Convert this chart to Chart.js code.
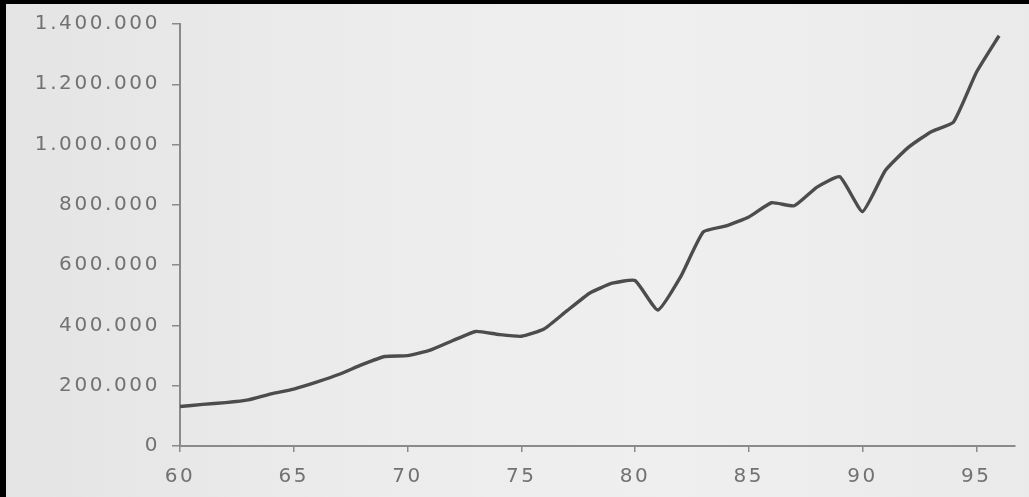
<!DOCTYPE html>
<html>
<head>
<meta charset="utf-8">
<title>Grafico</title>
<script src="https://cdn.jsdelivr.net/npm/chart.js@4.4.1/dist/chart.umd.min.js"></script>
<style>
  html, body { margin: 0; padding: 0; }
  body {
    width: 1029px; height: 497px; overflow: hidden; position: relative;
    background: linear-gradient(90deg, #e4e4e4 0%, #ececec 35%, #efefef 65%, #eaeaea 100%);
  }
  #wrap { position: absolute; left: 0; top: 0; width: 1029px; height: 497px; }
  #grafico { filter: blur(0.6px); }
  .borda { position: absolute; background: #000; }
</style>
</head>
<body>
<div id="wrap"><canvas id="grafico" width="1029" height="497"></canvas></div>
<div class="borda" style="left:0;top:0;width:6px;height:497px"></div>
<div class="borda" style="left:0;top:0;width:1029px;height:4px"></div>
<script>
// anos (60 = 1960) e valores
const anos = [60, 61, 62, 63, 64, 65, 66, 67, 68, 69,
              70, 71, 72, 73, 74, 75, 76, 77, 78, 79,
              80, 81, 82, 83, 84, 85, 86, 87, 88, 89,
              90, 91, 92, 93, 94, 95, 96];
const valores = [131000, 138000, 144000, 153000, 173000, 189000, 212000, 238000, 270000, 297000,
                 300000, 318000, 350000, 380000, 370000, 364000, 388000, 448000, 507000, 540000,
                 549000, 451000, 561000, 710000, 730000, 760000, 807000, 797000, 859000, 893000,
                 778000, 914000, 990000, 1042000, 1075000, 1239000, 1361000];
// ticks dos eixos
const ticksX = [60, 65, 70, 75, 80, 85, 90, 95];
const ticksY = [0, 200000, 400000, 600000, 800000, 1000000, 1200000, 1400000];

// formata com ponto de milhar (1.400.000)
function formatar(v) {
    return String(v).replace(/\B(?=(\d{3})+(?!\d))/g, '.');
}

const corTexto = '#727272';
const corEixo = '#8a8a8a';

// espaçamento entre letras (fonte larga do original)
const espacamento = {
    id: 'espacamento',
    beforeDraw(chart) { chart.ctx.letterSpacing = '2.6px'; }
};

const ctx = document.getElementById('grafico').getContext('2d');
const grafico = new Chart(ctx, {
    type: 'line',
    data: {
        datasets: [{
            data: anos.map((a, i) => ({ x: a, y: valores[i] })),
            borderColor: '#4c4c4c',
            borderWidth: 3.4,
            pointRadius: 0,
            tension: 0.15,
            fill: false
        }]
    },
    options: {
        responsive: false,
        animation: false,
        events: [],
        layout: { padding: { left: 0, right: 14, top: 21, bottom: 0 } },
        plugins: {
            legend: { display: false },
            tooltip: { enabled: false }
        },
        scales: {
            x: {
                type: 'linear',
                min: 60,
                max: 96.7,
                afterBuildTicks: (s) => { s.ticks = ticksX.map(v => ({ value: v })); },
                afterFit: (s) => { s.height = 51; },
                ticks: {
                    includeBounds: false,
                    autoSkip: false,
                    maxRotation: 0,
                    padding: 13,
                    color: corTexto,
                    font: { family: 'DejaVu Sans', size: 20 },
                    callback: (v) => v
                },
                grid: {
                    drawOnChartArea: false,
                    drawTicks: true,
                    tickLength: 6,
                    color: corEixo,
                    lineWidth: 1.5
                },
                border: { display: true, color: corEixo, width: 2 }
            },
            y: {
                min: 0,
                max: 1400000,
                afterBuildTicks: (s) => { s.ticks = ticksY.map(v => ({ value: v })); },
                afterFit: (s) => { s.width = 180; },
                ticks: {
                    includeBounds: false,
                    autoSkip: false,
                    padding: 12,
                    color: corTexto,
                    font: { family: 'DejaVu Sans', size: 20 },
                    callback: (v) => formatar(v)
                },
                grid: {
                    drawOnChartArea: false,
                    drawTicks: true,
                    tickLength: 8,
                    color: corEixo,
                    lineWidth: 1.5
                },
                border: { display: true, color: corEixo, width: 2 }
            }
        }
    },
    plugins: [espacamento]
});
</script>
</body>
</html>
